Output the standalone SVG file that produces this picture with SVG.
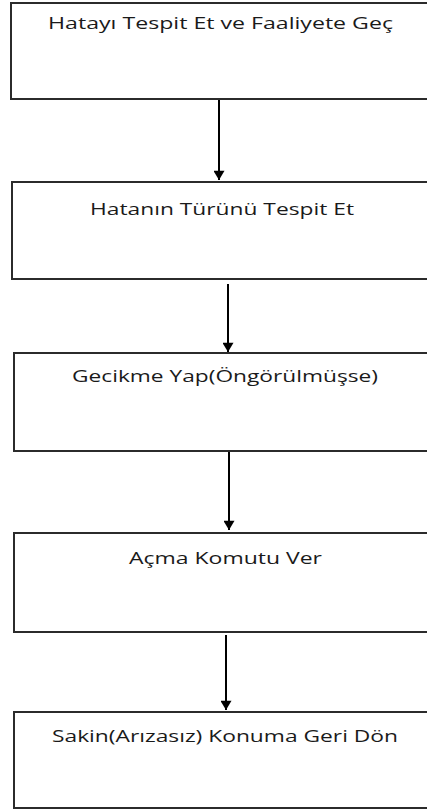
<svg xmlns="http://www.w3.org/2000/svg" width="427" height="811" viewBox="0 0 427 811">
  <style>
    .box { fill: #ffffff; stroke: #2b2b2b; stroke-width: 2; }
    .label { font-family: "Open Sans", "Liberation Sans", sans-serif; font-size: 15.5px; fill: #1a1a1a; }
    .conn { stroke: #000000; stroke-width: 2; fill: none; }
  </style>
  <defs>
    <marker id="arrow" viewBox="0 0 10 12" refX="10" refY="6" markerWidth="6" markerHeight="5.5" orient="auto" markerUnits="strokeWidth">
      <path d="M0,0 L10,6 L0,12 Z" fill="#000000"/>
    </marker>
  </defs>
  <rect width="427" height="811" fill="#ffffff"/>

  <g id="connectors">
    <line class="conn" x1="219" y1="100" x2="219" y2="180" marker-end="url(#arrow)"/>
    <line class="conn" x1="228" y1="284" x2="228" y2="352" marker-end="url(#arrow)"/>
    <line class="conn" x1="229" y1="452" x2="229" y2="530" marker-end="url(#arrow)"/>
    <line class="conn" x1="226" y1="635" x2="226" y2="710" marker-end="url(#arrow)"/>
  </g>

  <g id="node-detect">
    <rect class="box" x="11" y="3" width="440" height="96"/>
    <text class="label" x="48" y="29" textLength="345" lengthAdjust="spacingAndGlyphs">Hatayı Tespit Et ve Faaliyete Geç</text>
  </g>

  <g id="node-type">
    <rect class="box" x="12" y="182" width="440" height="97"/>
    <text class="label" x="90" y="215" textLength="264" lengthAdjust="spacingAndGlyphs">Hatanın Türünü Tespit Et</text>
  </g>

  <g id="node-delay">
    <rect class="box" x="14" y="353" width="440" height="98"/>
    <text class="label" x="72" y="382" textLength="306" lengthAdjust="spacingAndGlyphs">Gecikme Yap(Öngörülmüşse)</text>
  </g>

  <g id="node-trip">
    <rect class="box" x="14" y="533" width="440" height="99"/>
    <text class="label" x="129" y="564" textLength="193" lengthAdjust="spacingAndGlyphs">Açma Komutu Ver</text>
  </g>

  <g id="node-reset">
    <rect class="box" x="14" y="712" width="440" height="96"/>
    <text class="label" x="52" y="742" textLength="346" lengthAdjust="spacingAndGlyphs">Sakin(Arızasız) Konuma Geri Dön</text>
  </g>
</svg>
